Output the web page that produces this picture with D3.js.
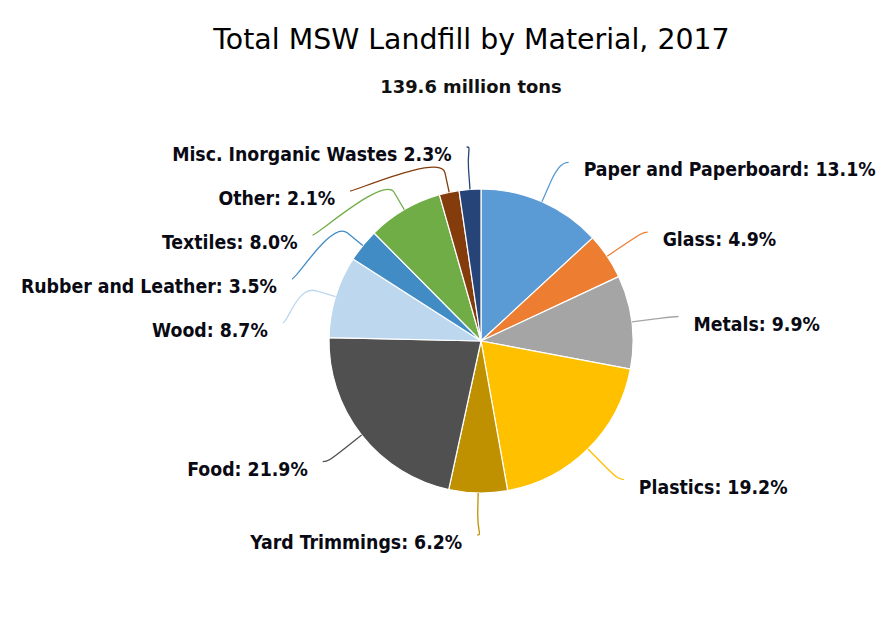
<!DOCTYPE html>
<html>
<head>
<meta charset="utf-8">
<script src="https://cdn.jsdelivr.net/npm/d3@7"></script>
<style>
  html, body { margin: 0; padding: 0; background: #ffffff; }
  svg { display: block; }
</style>
</head>
<body>
<svg id="chart" width="892" height="627"></svg>
<script>
const titleText = "Total MSW Landfill by Material, 2017";
const subtitleText = "139.6 million tons";
const categories = ["Paper and Paperboard", "Glass", "Metals", "Plastics", "Yard Trimmings", "Food", "Wood", "Rubber and Leather", "Textiles", "Other", "Misc. Inorganic Wastes"];
const values = [13.1, 4.9, 9.9, 19.2, 6.2, 21.9, 8.7, 3.5, 8.0, 2.1, 2.3];
const separators = [": ", ": ", ": ", ": ", ": ", ": ", ": ", ": ", ": ", ": ", " "];
const colors = ["#5B9BD5", "#ED7D31", "#A5A5A5", "#FFC000", "#BF9000", "#505050", "#BDD7EE", "#428CC6", "#70AD47", "#843C0C", "#264478"];

const W = 892, H = 627;
const cx = 481, cy = 341, radius = 152;
const Ry = 195;          // radius used for natural label y
const Rx = 199;          // radius used for label x
const breakOffset = 20;  // connector bend distance from slice edge
const labelGap = 44;
const topBound = 147, bottomBound = 535;

const svg = d3.select("#chart");
svg.append("rect").attr("width", W).attr("height", H).attr("fill", "#fff");

svg.append("text")
  .attr("x", 471.5).attr("y", 49)
  .attr("text-anchor", "middle")
  .style("font-family", "'DejaVu Sans', sans-serif")
  .style("font-size", "28.4px")
  .attr("fill", "#000")
  .text(titleText);

svg.append("text")
  .attr("x", 471).attr("y", 93)
  .attr("text-anchor", "middle")
  .style("font-family", "'DejaVu Sans', sans-serif")
  .style("font-size", "17.9px")
  .style("font-weight", "bold")
  .attr("fill", "#111")
  .text(subtitleText);

const data = categories.map((c, i) => ({ name: c, value: values[i], color: colors[i], sep: separators[i] }));
const pie = d3.pie().sort(null).value(d => d.value);
const arcs = pie(data);
const arcGen = d3.arc().innerRadius(0).outerRadius(radius);

const g = svg.append("g").attr("transform", `translate(${cx},${cy})`);
g.selectAll("path.slice").data(arcs).join("path")
  .attr("class", "slice")
  .attr("d", arcGen)
  .attr("fill", d => d.data.color)
  .attr("stroke", "#fff")
  .attr("stroke-width", 1.2)
  .attr("stroke-linejoin", "round");

// label layout (Highcharts-like)
const polar = (a, rho) => [Math.sin(a) * rho, -Math.cos(a) * rho];
arcs.forEach(d => {
  const a = (d.startAngle + d.endAngle) / 2;
  d.mid = a;
  d.left = a > Math.PI;
  d.naturalY = cy + polar(a, Ry)[1];
  d.naturalX = cx + polar(a, Rx)[0];
});

function distribute(list) {
  list.sort((a, b) => a.naturalY - b.naturalY);
  const n = list.length;
  let blocks = [];
  list.forEach((d, i) => {
    blocks.push({ sum: d.naturalY - i * labelGap, count: 1 });
    while (blocks.length > 1) {
      const b = blocks[blocks.length - 1], p = blocks[blocks.length - 2];
      if (p.sum / p.count > b.sum / b.count) {
        p.sum += b.sum; p.count += b.count; blocks.pop();
      } else break;
    }
  });
  const lo = topBound, hi = bottomBound - (n - 1) * labelGap;
  let i = 0;
  blocks.forEach(b => {
    const z = Math.max(lo, Math.min(hi, b.sum / b.count));
    for (let k = 0; k < b.count; k++, i++) list[i].y = z + i * labelGap;
  });
  list.forEach((d, idx) => {
    const pinned = (idx === 0 && Math.abs(d.y - topBound) < 0.01) || (idx === n - 1 && Math.abs(d.y - bottomBound) < 0.01);
    if (pinned) {
      d.x = d.naturalX;
    } else {
      const dy = Math.max(-1, Math.min(1, (d.y - cy) / Rx));
      d.x = cx + (d.left ? -1 : 1) * Math.cos(Math.asin(dy)) * Rx;
    }
  });
}
distribute(arcs.filter(d => !d.left));
distribute(arcs.filter(d => d.left));

const conn = svg.append("g").attr("fill", "none");
arcs.forEach(d => {
  const t = polar(d.mid, radius), b = polar(d.mid, radius + breakOffset);
  const tx = cx + t[0], ty = cy + t[1], bx = cx + b[0], by = cy + b[1];
  const p = d3.path();
  p.moveTo(d.x, d.y);
  p.bezierCurveTo(d.x + (d.left ? 5 : -5), d.y, 2 * bx - tx, 2 * by - ty, bx, by);
  p.lineTo(tx, ty);
  conn.append("path").attr("d", p.toString())
    .attr("stroke", d.data.color).attr("stroke-width", 1.3);
});

svg.append("g").selectAll("text").data(arcs).join("text")
  .attr("x", d => d.x + (d.left ? -15 : 15))
  .attr("y", d => d.y + 14)
  .attr("text-anchor", d => d.left ? "end" : "start")
  .style("font-family", "'DejaVu Sans Condensed', 'DejaVu Sans', sans-serif")
  .style("font-stretch", "condensed")
  .style("font-size", "19.3px")
  .style("font-weight", "bold")
  .attr("fill", "#0a0a14")
  .text(d => `${d.data.name}${d.data.sep}${d3.format(".1f")(d.data.value)}%`);
</script>
</body>
</html>
